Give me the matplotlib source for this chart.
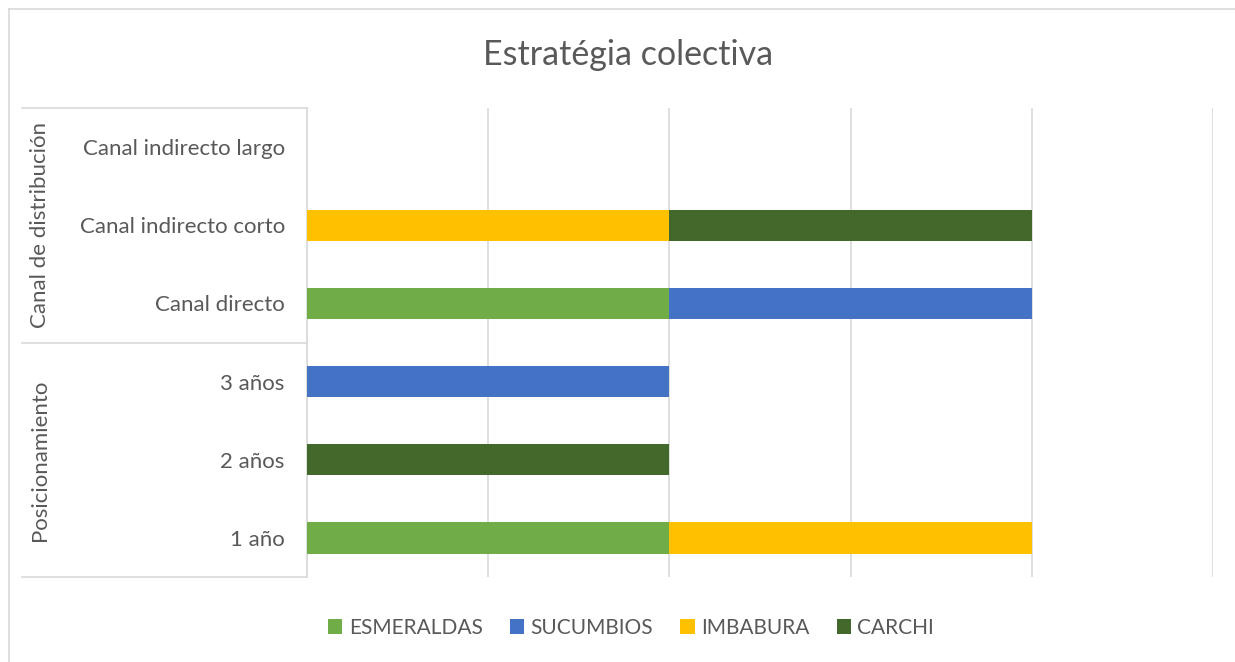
import numpy as np
import matplotlib.pyplot as plt
from matplotlib.lines import Line2D

plt.rcParams['font.family'] = ['Lato', 'DejaVu Sans']

categories = ['1 año', '2 años', '3 años', 'Canal directo',
              'Canal indirecto corto', 'Canal indirecto largo']
groups = ['Posicionamiento', 'Canal de distribución']
group_sizes = [3, 3]

series = ['ESMERALDAS', 'SUCUMBIOS', 'IMBABURA', 'CARCHI']
esmeraldas = [1, 0, 0, 1, 0, 0]
sucumbios = [0, 0, 1, 1, 0, 0]
imbabura = [1, 0, 0, 0, 1, 0]
carchi = [0, 1, 0, 0, 1, 0]
colors = ['#70AD47', '#4472C4', '#FFC000', '#43682B']

W, H = 1235, 662
fig = plt.figure(figsize=(W / 100, H / 100), dpi=100)
x0, x1, y0, y1 = 307, 1213, 108, 577
ax = fig.add_axes([x0 / W, 1 - y1 / H, (x1 - x0) / W, (y1 - y0) / H])

txt = '#595959'
grid = '#D9D9D9'

y = np.arange(len(categories))
left = np.zeros(len(categories))
for name, vals, c in zip(series, [esmeraldas, sucumbios, imbabura, carchi], colors):
    vals = np.array(vals, dtype=float)
    ax.barh(y, vals, left=left, height=0.4, color=c, label=name, zorder=3)
    left += vals

ax.set_xlim(0, 2.5)
ax.set_ylim(-0.5, len(categories) - 0.5)
ax.set_xticks(np.arange(0, 2.51, 0.5))
ax.set_xticklabels([])
ax.tick_params(axis='x', length=0)
ax.grid(axis='x', color=grid, linewidth=1.2, zorder=0)
ax.set_yticks(y)
ax.set_yticklabels(categories, color=txt, fontsize=16)
ax.tick_params(axis='y', length=0, pad=16)
for s in ['top', 'right', 'bottom']:
    ax.spines[s].set_visible(False)
ax.spines['left'].set_color(grid)
ax.spines['left'].set_linewidth(1.2)

# category group brackets
bounds = [y1, 343, y0]
for yp in bounds:
    fig.add_artist(Line2D([22 / W, x0 / W], [1 - yp / H] * 2, color=grid, lw=1.2))
for i, g in enumerate(groups):
    yc = (bounds[i] + bounds[i + 1]) / 2
    fig.text(40 / W, 1 - yc / H, g, rotation=90, ha='center', va='center',
             color=txt, fontsize=16)

# chart border (left and top only visible)
fig.add_artist(Line2D([9 / W, 9 / W], [0, 1 - 9 / H], color=grid, lw=1.2))
fig.add_artist(Line2D([9 / W, 1], [1 - 9 / H] * 2, color=grid, lw=1.2))

fig.text(628 / W, 1 - 55 / H, 'Estratégia colectiva', ha='center', va='center',
         color=txt, fontsize=24.5)

fig.legend(loc='center', bbox_to_anchor=(631 / W, 1 - 628 / H), ncol=4, frameon=False,
           fontsize=15, handlelength=0.7, handleheight=0.7, handletextpad=0.3,
           columnspacing=1.3, labelcolor=txt)

fig.savefig('out.png', dpi=100)
